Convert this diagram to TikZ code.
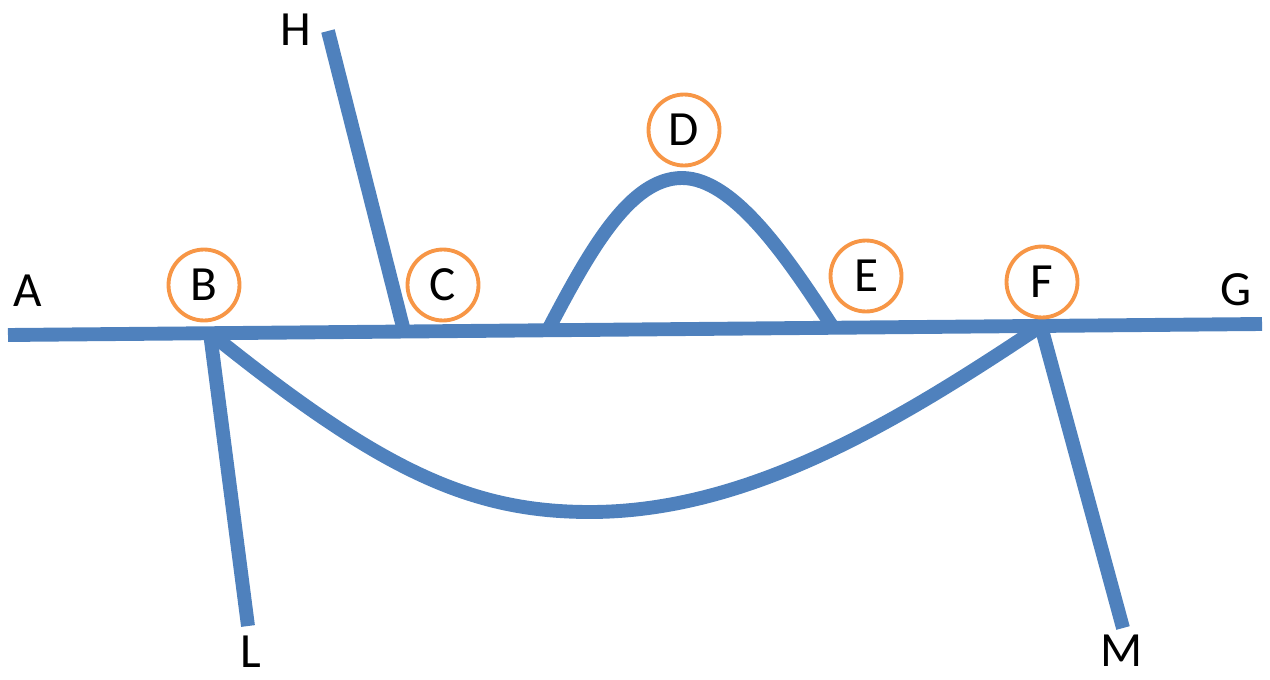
\documentclass[tikz,border=0pt]{standalone}
\usepackage{fontspec}
\setmainfont{Carlito}
\usepackage{xcolor}
\usetikzlibrary{positioning}
\definecolor{OBlue}{HTML}{4F81BD}
\definecolor{OOrange}{HTML}{F79646}

\begin{document}
\begin{tikzpicture}[
  x=0.02cm,y=-0.02cm,
  lbl/.style={inner sep=0pt,font=\fontsize{28}{30}\selectfont},
  ring/.style={lbl,circle,draw=OOrange,line width=2.2pt,minimum size=1.42cm},
  wire/.style={draw=OBlue,line width=7.9pt}
]
  \useasboundingbox (0,0) rectangle (1270,679);
  % points on the lines
  \coordinate (a) at (8,335);
  \coordinate (g) at (1262,324);
  \coordinate (b) at (210,333);
  \coordinate (c) at (404,331);
  \coordinate (f) at (1041,326);
  \coordinate (h) at (328,31);
  \coordinate (l) at (248,626);
  \coordinate (m) at (1123,628);
  \coordinate (d0) at (548,330);
  \coordinate (d1) at (832,326);
  \coordinate (dtop) at (682,178);
  \coordinate (low) at (590,512);
  % blue lines
  \draw[wire] (a) -- (g);
  \draw[wire] (h) -- (c);
  \draw[wire] (b) -- (l);
  \draw[wire] (f) -- (m);
  \draw[wire] (d0) .. controls (590,250) and (630,178) .. (dtop)
    .. controls (735,178) and (790,262) .. (d1);
  \draw[wire] (b) .. controls (380,470) and (470,512) .. (low)
    .. controls (750,512) and (900,420) .. (f);
  % letters
  \node[lbl] (A) at (28,291) {A};
  \node[lbl] (G) at (1236,290) {G};
  \node[lbl] (H) at (296,30) {H};
  \node[lbl] (L) at (251,652) {L};
  \node[lbl] (M) at (1122,651) {M};
  \node[ring] (B) at (204,285) {B};
  \node[ring] (C) at (443,285) {C};
  \node[ring] (D) at (684,130) {D};
  \node[ring] (E) at (866,276) {E};
  \node[ring] (F) at (1042,282) {F};
\end{tikzpicture}
\end{document}
